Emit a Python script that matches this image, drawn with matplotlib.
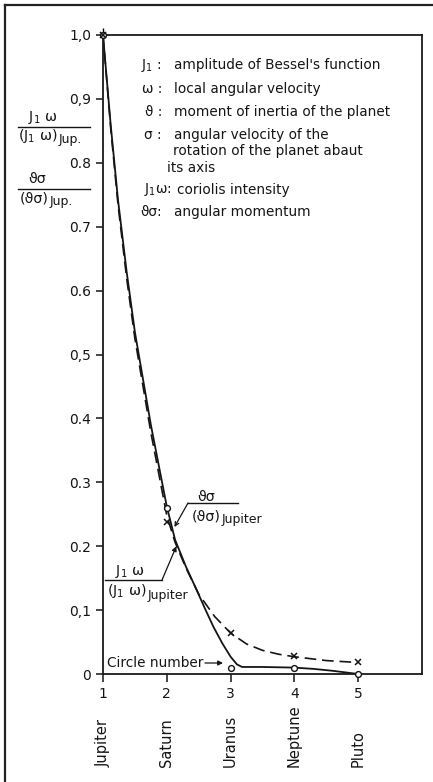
import matplotlib
matplotlib.use('Agg')
import matplotlib.pyplot as plt
import matplotlib.transforms as mtransforms
from matplotlib.lines import Line2D

plt.rcParams['font.family'] = ['DejaVu Sans']
plt.rcParams['mathtext.fontset'] = 'dejavusans'

# ---------------- data ----------------
planets = ['Jupiter', 'Saturn', 'Uranus', 'Neptune', 'Pluto']
circle_number = [1, 2, 3, 4, 5]
# J1 ω / (J1 ω)_Jupiter  (open circles, solid curve)
coriolis_ratio = [1.0, 0.26, 0.01, 0.01, 0.0]
# ϑσ / (ϑσ)_Jupiter  (crosses, dashed curve)
momentum_ratio = [1.0, 0.238, 0.064, 0.028, 0.018]

# hand-drawn curves
coriolis_curve_x = [1.0, 1.12, 1.235, 1.37, 1.5, 1.75, 2.0, 2.13, 2.3, 2.47, 2.6,
                    2.73, 2.87, 3.0, 3.1, 3.18, 3.5, 4.0, 4.3, 4.6, 5.0]
coriolis_curve_y = [1.0, 0.86, 0.742, 0.63, 0.535, 0.39, 0.262, 0.21, 0.168, 0.131, 0.102,
                    0.074, 0.048, 0.027, 0.015, 0.011, 0.011, 0.010, 0.008, 0.005, 0.0]
momentum_curve_x = [1.0, 1.12, 1.235, 1.37, 1.5, 1.75, 2.0, 2.13, 2.3, 2.5, 2.75,
                    3.0, 3.25, 3.5, 3.75, 4.0, 4.5, 5.0]
momentum_curve_y = [1.0, 0.855, 0.735, 0.62, 0.525, 0.378, 0.248, 0.206, 0.166, 0.125, 0.09,
                    0.064, 0.047, 0.037, 0.031, 0.027, 0.021, 0.018]

yticks = [0.0, 0.1, 0.2, 0.3, 0.4, 0.5, 0.6, 0.7, 0.8, 0.9, 1.0]
ytick_labels = ['0', '0,1', '0.2', '0.3', '0.4', '0,5', '0.6', '0.7', '0.8', '0,9', '1,0']
xtick_labels = ['1', '2', '3', '4', '5']

legend_rows = [
    ('J$_1$ :', "amplitude of Bessel's function"),
    ('ω :', 'local angular velocity'),
    ('ϑ :', 'moment of inertia of the planet'),
    ('σ :', 'angular velocity of the'),
    ('', 'rotation of the planet abaut'),
    ('', 'its axis'),
    ('J$_1$ω:', 'coriolis intensity'),
    ('ϑσ:', 'angular momentum'),
]

# ---------------- figure ----------------
W, H = 433, 782
fig = plt.figure(figsize=(W / 100, H / 100), dpi=100)
fig.patch.set_facecolor('white')
ink = '#151515'
FS = 9.8


def fp(x, y):
    """figure pixel (from top-left) -> figure fraction"""
    return (x / W, 1 - y / H)


def ftext(x, y, s, **kw):
    kw.setdefault('fontsize', FS)
    kw.setdefault('color', ink)
    kw.setdefault('va', 'center')
    kw.setdefault('ha', 'left')
    return fig.text(*fp(x, y), s, **kw)


def fline(x0, x1, y, lw=1.0):
    fig.add_artist(Line2D([x0 / W, x1 / W], [1 - y / H, 1 - y / H], color=ink, lw=lw))


def subbed(x, y, main, sub, fs=10.3, fs_sub=9.0, dy=4, gap=1):
    t = ftext(x, y, main, fontsize=fs)
    r = fig.canvas.get_renderer()
    bb = t.get_window_extent(renderer=r)
    xr = bb.x1 + gap  # display px from left
    ftext(xr, y + dy, sub, fontsize=fs_sub)


ax = fig.add_axes([103 / W, 1 - 674 / H, (422 - 103) / W, (674 - 35) / H])
ax.set_xlim(1, 6.0)
ax.set_ylim(0, 1.0)
for s in ax.spines.values():
    s.set_linewidth(1.3)
    s.set_color('#1a1a1a')

ax.plot(coriolis_curve_x, coriolis_curve_y, color=ink, lw=1.3, solid_capstyle='round')
ax.plot(momentum_curve_x, momentum_curve_y, color=ink, lw=1.2, ls=(0, (7, 3.5)))
ax.plot(circle_number, coriolis_ratio, ls='none', marker='o', ms=4.2, mfc='white',
        mec=ink, mew=1.0, clip_on=False, zorder=5)
ax.plot(circle_number, momentum_ratio, ls='none', marker='x', ms=4.5, mec=ink,
        mew=1.1, clip_on=False, zorder=6)

ax.set_yticks(yticks)
ax.set_yticklabels(ytick_labels, fontsize=10)
ax.set_xticks(circle_number)
ax.set_xticklabels(xtick_labels, fontsize=10)
ax.tick_params(axis='y', direction='out', length=5, width=1.1, pad=3.5, colors=ink)
ax.tick_params(axis='x', direction='out', length=6, width=1.1, pad=3.5, colors=ink)

sec = ax.secondary_xaxis('top')
sec.set_xticks([1])
sec.set_xticklabels([''])
sec.tick_params(direction='out', length=5, width=1.0)
sec.spines['top'].set_visible(False)

# planet names under the ticks
trans = mtransforms.blended_transform_factory(ax.transData, fig.transFigure)
for xv, name in zip(circle_number, planets):
    ax.text(xv, 1 - 767 / H, name, rotation=90, ha='center', va='bottom',
            fontsize=10.5, transform=trans, color=ink)

# legend block
row_y = [65, 89, 112, 135, 151, 168, 190, 212]
for (sym, body), yp in zip(legend_rows, row_y):
    if sym:
        cx = 172 if sym.startswith('J$_1$ω') else 162
        ftext(cx, yp, sym, ha='right')
        bx = cx + 5 if sym.startswith('J$_1$ω') else 174
    else:
        bx = 173 if body.startswith('rotation') else 167
    ftext(bx, yp, body)

# y-axis label (two stacked fractions)
ftext(28, 117, 'J$_1$ ω', fontsize=10.3)
fline(18, 90, 127)
subbed(18, 136, '(J$_1$ ω)', 'Jup.')
ftext(28, 179, 'ϑσ', fontsize=10.3)
fline(18, 90, 189)
subbed(20, 198, '(ϑσ)', 'Jup.')

# curve labels
ftext(206, 497, 'ϑσ', ha='center', fontsize=10.3)
fline(188, 238, 503)
subbed(192, 516, '(ϑσ)', 'Jupiter')
ax.annotate('', xy=(2.12, 0.23), xycoords='data', xytext=fp(188, 503),
            textcoords='figure fraction',
            arrowprops=dict(arrowstyle='->', lw=0.9, color=ink, shrinkA=0, shrinkB=0,
                            mutation_scale=7))

ftext(115, 572, 'J$_1$ ω', fontsize=10.3)
fline(105, 162, 580)
subbed(107, 591, '(J$_1$ ω)', 'Jupiter')
ax.annotate('', xy=(2.15, 0.20), xycoords='data', xytext=fp(162, 580),
            textcoords='figure fraction',
            arrowprops=dict(arrowstyle='-|>', lw=0.9, color=ink, shrinkA=0, shrinkB=0,
                            mutation_scale=7))

# circle number note
ftext(107, 663, 'Circle number')
ax.annotate('', xy=fp(223, 663), xycoords='figure fraction', xytext=fp(205, 663),
            textcoords='figure fraction',
            arrowprops=dict(arrowstyle='-|>', lw=0.9, color=ink, shrinkA=0, shrinkB=0,
                            mutation_scale=7))

# outer frame (left and top edges)
fig.add_artist(Line2D([5 / W, 5 / W], [0, 1 - 5 / H], color='#222222', lw=1.6))
fig.add_artist(Line2D([5 / W, 1], [1 - 5 / H, 1 - 5 / H], color='#222222', lw=1.6))

fig.savefig('out.png', dpi=100, facecolor='white')
